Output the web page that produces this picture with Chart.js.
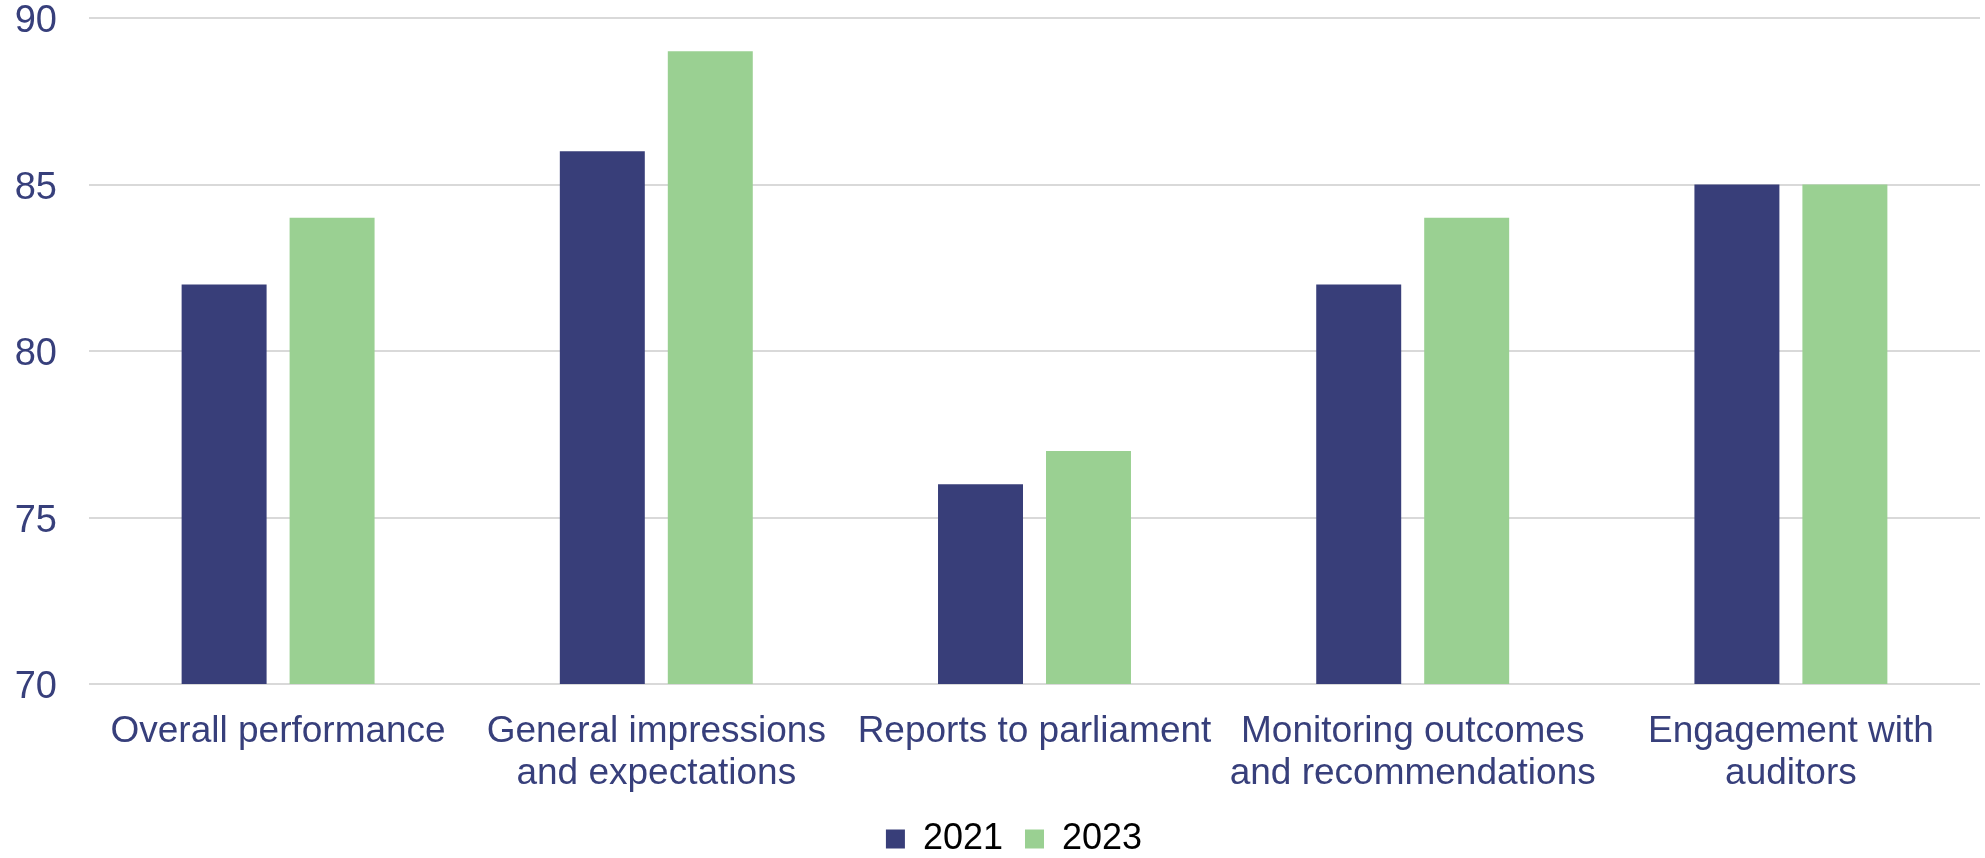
<!DOCTYPE html>
<html>
<head>
<meta charset="utf-8">
<script src="https://cdn.jsdelivr.net/npm/chart.js@4"></script>
<style>
  html, body { margin: 0; padding: 0; background: #ffffff; }
  #wrap { width: 1985px; height: 858px; position: relative; }
</style>
</head>
<body>
<div id="wrap"><canvas id="c" width="1985" height="858"></canvas></div>
<script>
const categories = [
  "Overall performance",
  ["General impressions", "and expectations"],
  "Reports to parliament",
  ["Monitoring outcomes", "and recommendations"],
  ["Engagement with", "auditors"]
];
const seriesNames = ["2021", "2023"];
const values2021 = [82, 86, 76, 82, 85];
const values2023 = [84, 89, 77, 84, 85];
const yTicks = [70, 75, 80, 85, 90];

const labelColor = "#373F7B";
const font = "'Liberation Sans', Arial, sans-serif";

const legendShift = {
  id: "legendShift",
  afterLayout(chart) {
    if (chart.legend) { chart.legend.left += 48; }
  }
};

new Chart(document.getElementById("c"), {
  type: "bar",
  data: {
    labels: categories,
    datasets: [
      { label: seriesNames[0], data: values2021, backgroundColor: "#383E79",
        categoryPercentage: 0.571, barPercentage: 0.787 },
      { label: seriesNames[1], data: values2023, backgroundColor: "#9AD092",
        categoryPercentage: 0.571, barPercentage: 0.787 }
    ]
  },
  plugins: [legendShift],
  options: {
    responsive: false,
    animation: false,
    devicePixelRatio: 1,
    layout: { padding: { left: 0, right: 5, top: 18, bottom: -9 } },
    plugins: {
      tooltip: { enabled: false },
      legend: {
        position: "bottom",
        labels: {
          boxWidth: 19, boxHeight: 19, padding: 22,
          color: "#000000",
          font: { family: font, size: 36 }
        }
      }
    },
    scales: {
      x: {
        grid: { display: false, drawTicks: false },
        border: { display: false },
        ticks: {
          color: labelColor, padding: 27, maxRotation: 0, autoSkip: false,
          font: { family: font, size: 37, lineHeight: 1.14 }
        },
        afterFit: (s) => { s.height = 115; s.paddingLeft = 0; s.paddingRight = 0; }
      },
      y: {
        min: yTicks[0], max: yTicks[yTicks.length - 1],
        afterBuildTicks: (s) => { s.ticks = yTicks.map(v => ({ value: v })); },
        grid: { color: "#D9D9D9", lineWidth: 2, drawTicks: false },
        border: { display: false },
        ticks: {
          color: labelColor, padding: 32, labelOffset: 4,
          font: { family: font, size: 38 }
        },
        afterFit: (s) => { s.width = 89; s.paddingTop = 0; s.paddingBottom = 0; }
      }
    }
  }
});
</script>
</body>
</html>
